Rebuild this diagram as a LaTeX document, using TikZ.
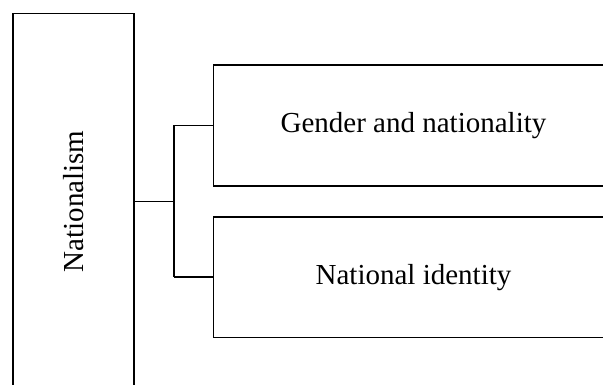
\documentclass[tikz,border=0pt]{standalone}
\usepackage{fontspec}
\setmainfont{Liberation Serif}
\begin{document}
\begin{tikzpicture}[x=1pt,y=-1pt,
  box/.style={draw=black, line width=1.9pt, inner sep=0pt, align=center,
    font=\fontsize{29}{34}\selectfont},
  conn/.style={draw=black, line width=1.9pt}]
\useasboundingbox (0,0) rectangle (603,385);
\clip (0,0) rectangle (603,385);
\node[box, minimum width=121pt, minimum height=376pt] (nat) at (73.5,201.5)
  {\rotatebox{90}{Nationalism}};
\node[box, minimum width=400pt, minimum height=121pt] (gen) at (413.5,125.5)
  {Gender and nationality};
\node[box, minimum width=400pt, minimum height=120.5pt] (ide) at (413.5,277.2)
  {National identity};
\coordinate (j) at (174,201.5);
\draw[conn] (nat.east |- j) -- (j);
\draw[conn] (j |- gen.west) -- (j |- ide.west);
\draw[conn] (j |- gen.west) -- (gen.west);
\draw[conn] (j |- ide.west) -- (ide.west);
\end{tikzpicture}
\end{document}
